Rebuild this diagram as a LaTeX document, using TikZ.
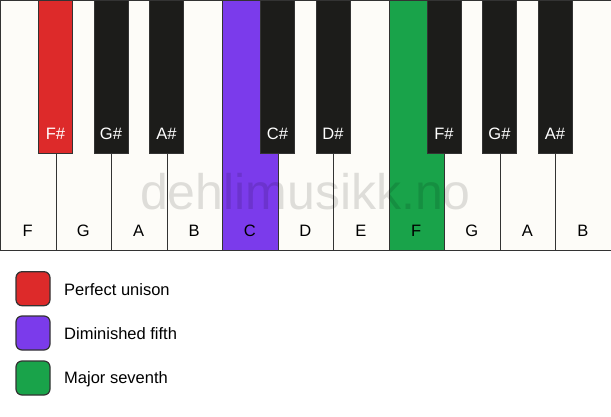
\documentclass[tikz,border=0pt]{standalone}
\usepackage{fontspec}
\setmainfont{Liberation Sans}
\definecolor{wkey}{HTML}{FDFCF8}
\definecolor{bkey}{HTML}{1C1C1A}
\definecolor{edge}{HTML}{333333}
\definecolor{cred}{HTML}{DD2A2A}
\definecolor{cpurple}{HTML}{7B3BEB}
\definecolor{cgreen}{HTML}{19A34A}
\begin{document}
\begin{tikzpicture}[x=1pt,y=-1pt,
  whitekey/.style={draw=edge,line width=1.3pt,fill=wkey,minimum width=55.545pt,minimum height=250pt,inner sep=0pt,anchor=north west},
  blackkey/.style={draw=edge,line width=1pt,fill=bkey,minimum width=34pt,minimum height=153pt,inner sep=0pt,anchor=north},
  wlabel/.style={font=\fontsize{16.5pt}{18pt}\selectfont,text=black,inner sep=0pt},
  blabel/.style={font=\fontsize{16.5pt}{18pt}\selectfont,text=white,inner sep=0pt},
  legbox/.style={draw=edge,line width=1.2pt,rounded corners=6pt,minimum size=34pt,inner sep=0pt},
  legtext/.style={font=\fontsize{16.5pt}{18pt}\selectfont,anchor=west,inner sep=0pt}]
\useasboundingbox (0,0) rectangle (611,417);
\fill[white] (0,0) rectangle (611,417);
% white keys
\foreach \n/\lab/\col [count=\i from 0] in {w1/F/wkey,w2/G/wkey,w3/A/wkey,w4/B/wkey,w5/C/cpurple,w6/D/wkey,w7/E/wkey,w8/F/cgreen,w9/G/wkey,w10/A/wkey,w11/B/wkey}{
  \node[whitekey,fill=\col] (\n) at ({\i*55.5},0) {};
  \node[wlabel] (\n l) at ({\i*55.5+27.75},230.5) {\lab};
}
% watermark
\node[font=\fontsize{50pt}{52pt}\selectfont,text=black,text opacity=0.12,inner sep=0pt] (wm) at (305.5,192) {dehlimusikk.no};
% black keys
\foreach \n/\lab/\b/\col in {b1/F\#/1/cred,b2/G\#/2/bkey,b3/A\#/3/bkey,b5/C\#/5/bkey,b6/D\#/6/bkey,b8/F\#/8/bkey,b9/G\#/9/bkey,b10/A\#/10/bkey}{
  \node[blackkey,fill=\col] (\n) at ({\b*55.5},0) {};
  \node[blabel] (\n l) at ({\b*55.5},133.5) {\lab};
}
% legend
\node[legbox,fill=cred] (l1) at (33,288.7) {};
\node[legtext] (t1) at (64,289.5) {Perfect unison};
\node[legbox,fill=cpurple] (l2) at (33,333) {};
\node[legtext] (t2) at (64,334) {Diminished fifth};
\node[legbox,fill=cgreen] (l3) at (33,378) {};
\node[legtext] (t3) at (64,379) {Major seventh};
\end{tikzpicture}
\end{document}
